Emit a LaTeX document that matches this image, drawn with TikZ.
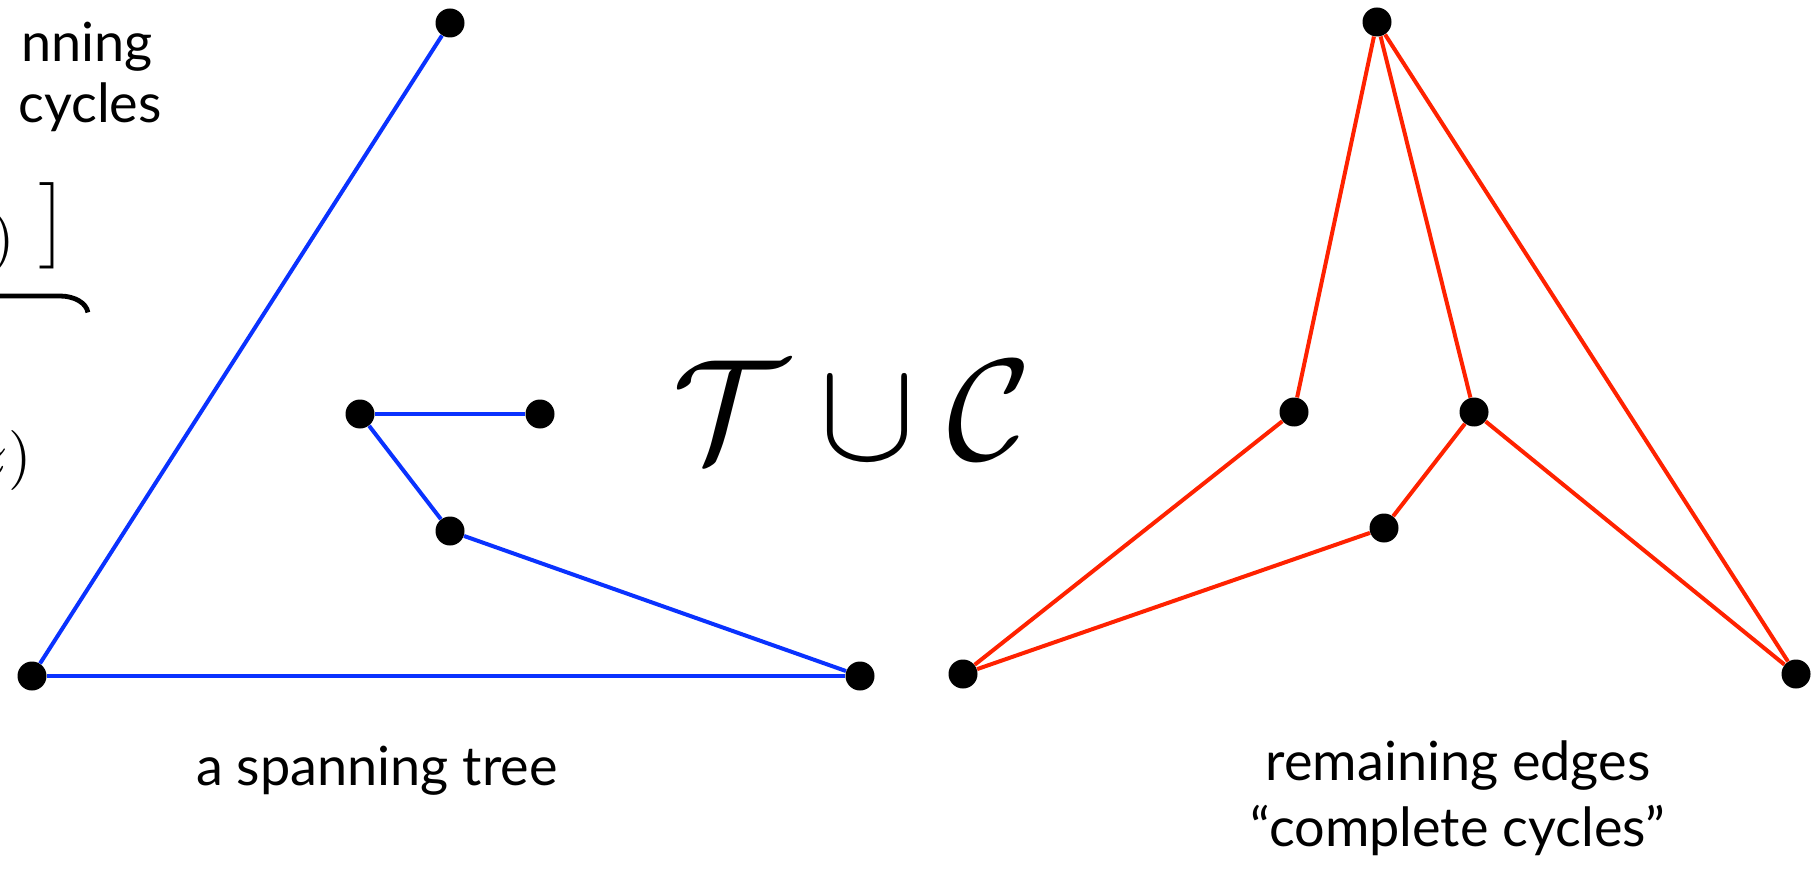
\documentclass[tikz,border=0pt]{standalone}
\usepackage{amsmath}
\usepackage{fontspec}
\setmainfont{Lato}
\definecolor{TreeBlue}{HTML}{0A32FF}
\definecolor{CycleRed}{HTML}{FF2200}
\usetikzlibrary{positioning}

\begin{document}
\begin{tikzpicture}[x=0.5pt,y=-0.5pt,
  vtx/.style={circle,fill=black,inner sep=0pt,minimum size=14.5pt},
  tree/.style={draw=TreeBlue,line width=2pt},
  cyc/.style={draw=CycleRed,line width=2pt},
  lbl/.style={font=\fontsize{27}{33}\selectfont,align=center}]
\useasboundingbox (0,0) rectangle (1818,871);
% left text, cut off by the page edge
\node[lbl,anchor=base east,inner sep=0pt] (t1) at (153,62) {nning};
\node[lbl,anchor=base east,inner sep=0pt] (t2) at (162,123) {cycles};
\node[anchor=east,inner sep=0pt,scale=3] (t3) at (16,243) {$)$};
\node[anchor=east,inner sep=0pt,scale=3.6] (t4) at (70,226) {$\big]$};
\draw[line width=2.4pt] (0,296) -- (60,296) arc[start angle=90,end angle=5,x radius=28,y radius=-18];
\node[anchor=east,inner sep=0pt,scale=3] (t5) at (33,460) {$\mathstrut z)$};
% spanning tree
\node[vtx] (a1) at (450,23) {};
\node[vtx] (a2) at (32,676) {};
\node[vtx] (a3) at (360,414) {};
\node[vtx] (a4) at (540,414) {};
\node[vtx] (a5) at (450,531) {};
\node[vtx] (a6) at (860,676) {};
\draw[tree] (a1)--(a2); \draw[tree] (a2)--(a6); \draw[tree] (a3)--(a4);
\draw[tree] (a3)--(a5); \draw[tree] (a5)--(a6);
\node[lbl] (tl) at (377,771) {a spanning tree};
% union
\node[scale=7.2] (un) at (852,410) {$\mathcal{T}\cup\mathcal{C}$};
% remaining edges
\node[vtx] (b1) at (1377,22) {};
\node[vtx] (b2) at (1294,412) {};
\node[vtx] (b3) at (1474,412) {};
\node[vtx] (b4) at (1384,528) {};
\node[vtx] (b5) at (963,674) {};
\node[vtx] (b6) at (1796,674) {};
\draw[cyc] (b1)--(b2); \draw[cyc] (b1)--(b3); \draw[cyc] (b1)--(b6);
\draw[cyc] (b2)--(b5); \draw[cyc] (b3)--(b4); \draw[cyc] (b4)--(b5); \draw[cyc] (b3)--(b6);
\node[lbl] (tr) at (1458,798) {remaining edges\\``complete cycles''};
\end{tikzpicture}
\end{document}
